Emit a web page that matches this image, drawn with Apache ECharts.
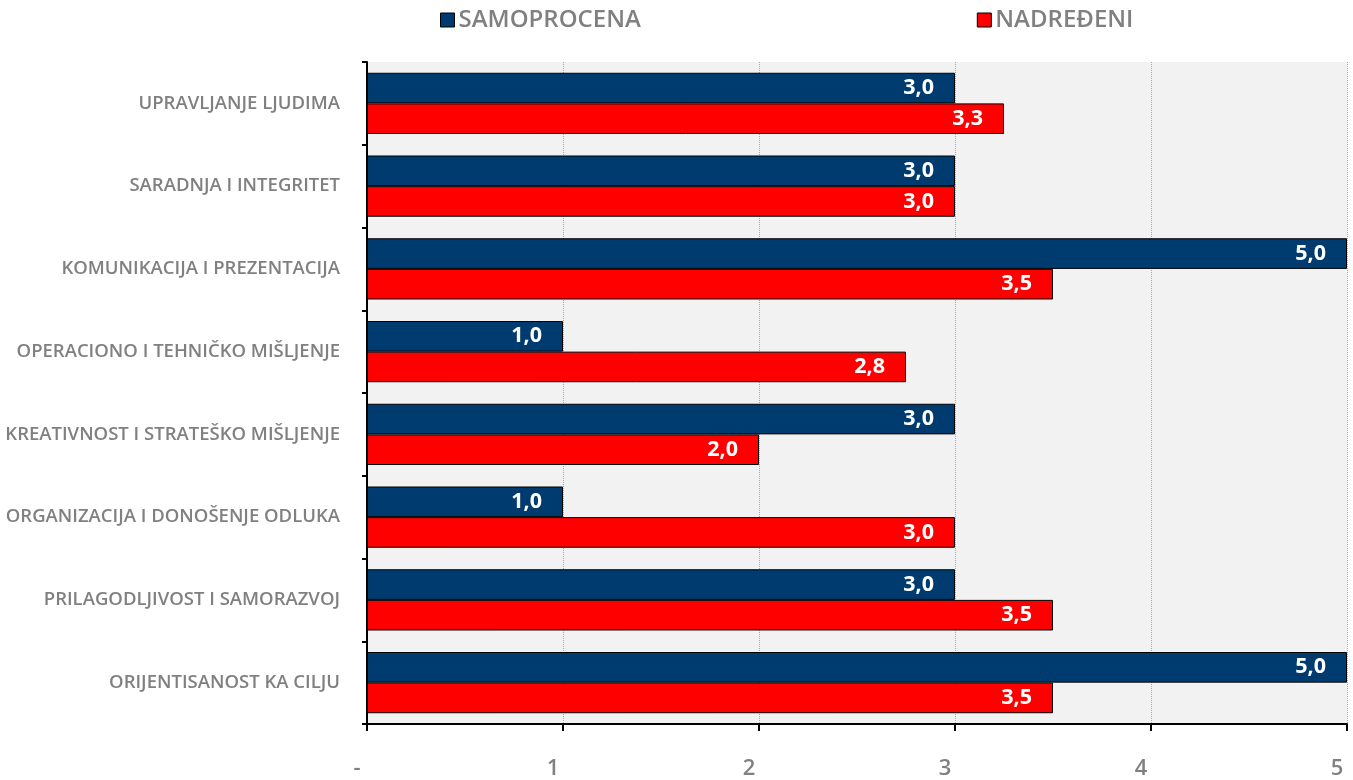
<!DOCTYPE html>
<html><head><meta charset="utf-8">
<script src="https://cdn.jsdelivr.net/npm/echarts@6/dist/echarts.min.js"></script>
<style>html,body{margin:0;padding:0;background:#fff}#c{width:1353px;height:780px}</style>
</head><body><div id="c"></div>
<script>
const categories = ["UPRAVLJANJE LJUDIMA","SARADNJA I INTEGRITET","KOMUNIKACIJA I PREZENTACIJA","OPERACIONO I TEHNIČKO MIŠLJENJE","KREATIVNOST I STRATEŠKO MIŠLJENJE","ORGANIZACIJA I DONOŠENJE ODLUKA","PRILAGODLJIVOST I SAMORAZVOJ","ORIJENTISANOST KA CILJU"];
const samoprocena = [3.0,3.0,5.0,1.0,3.0,1.0,3.0,5.0];
const nadredjeni = [3.25,3.0,3.5,2.75,2.0,3.0,3.5,3.5];
const seriesNames = ["SAMOPROCENA","NADREĐENI"];
const xTickLabels = ["-","1","2","3","4","5"];

const chart = echarts.init(document.getElementById('c'));
const FONT = '"Open Sans", "Noto Sans", sans-serif';
const lbl = {
  show:true, position:'insideRight', distance:21,
  color:'#fff', fontFamily:FONT, fontWeight:'bold', fontSize:21.5,
  formatter: p => p.value.toFixed(1).replace('.',',')
};
chart.setOption({
  animation:false,
  legend:{
    top:3, left:435, itemGap:336, itemWidth:14, itemHeight:14, icon:'rect',
    itemStyle:{borderColor:'#000', borderWidth:1},
    textStyle:{color:'#808080', fontSize:24, fontWeight:600, fontFamily:FONT, padding:[0,0,0,-1]},
    data:seriesNames
  },
  grid:{left:367, right:6, top:62, bottom:53, containLabel:false,
    show:true, backgroundColor:'#f2f2f2', borderWidth:0},
  xAxis:{
    type:'value', min:0, max:5, interval:1,
    axisLine:{show:true, lineStyle:{color:'#000', width:2}},
    axisTick:{show:true, length:7, lineStyle:{color:'#000', width:2}},
    splitLine:{show:true, lineStyle:{color:'#a6a6a6', type:'dotted', width:1}},
    axisLabel:{margin:34, color:'#808080', fontSize:22, fontFamily:FONT, fontWeight:600,
      formatter:(v)=>xTickLabels[Math.round(v)], padding:[0,20,0,0]}
  },
  yAxis:{
    type:'category', data:categories, inverse:true,
    axisLine:{show:true, lineStyle:{color:'#000', width:2}},
    axisTick:{show:true, length:5, lineStyle:{color:'#000', width:2}},
    axisLabel:{margin:27, color:'#808080', fontSize:18.5, fontFamily:FONT, fontWeight:600}
  },
  series:[
    {name:seriesNames[0], type:'bar', data:samoprocena, barGap:'0%', barCategoryGap:'26%',
     itemStyle:{color:'#003b70', borderColor:'#000', borderWidth:1}, label:lbl},
    {name:seriesNames[1], type:'bar', data:nadredjeni, barGap:'0%', barCategoryGap:'26%',
     itemStyle:{color:'#ff0000', borderColor:'#000', borderWidth:1}, label:lbl}
  ]
});
</script></body></html>
